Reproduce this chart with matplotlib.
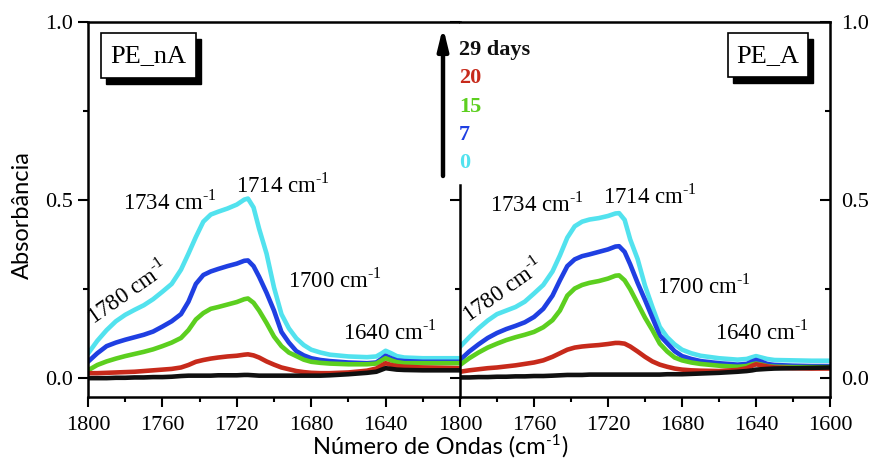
import matplotlib
matplotlib.use("Agg")
import matplotlib.pyplot as plt
from matplotlib.patches import Rectangle, FancyArrowPatch
from matplotlib.ticker import FixedLocator, MultipleLocator

plt.rcParams["font.family"] = ["Liberation Serif", "DejaVu Serif"]
plt.rcParams["mathtext.fontset"] = "custom"
plt.rcParams["mathtext.rm"] = "Liberation Serif"

# ---------------- data ----------------
wavenumber = [1800, 1795, 1790, 1785, 1780, 1775, 1770, 1765, 1760, 1755,
              1750, 1746, 1742, 1738, 1734, 1730, 1725, 1720, 1716, 1714,
              1711, 1708, 1704, 1700, 1696, 1692, 1688, 1684, 1680, 1675,
              1670, 1660, 1650, 1645, 1642, 1640, 1637, 1634, 1630, 1620,
              1610, 1600]

# PE_nA
nA_day0 = [0.069, 0.105, 0.135, 0.160, 0.178, 0.192, 0.205, 0.222, 0.243, 0.265,
           0.305, 0.350, 0.397, 0.440, 0.460, 0.468, 0.477, 0.488, 0.502, 0.505,
           0.480, 0.420, 0.350, 0.255, 0.180, 0.140, 0.112, 0.093, 0.080, 0.072,
           0.066, 0.061, 0.059, 0.061, 0.070, 0.077, 0.070, 0.062, 0.058, 0.056,
           0.056, 0.056]
nA_day7 = [0.046, 0.070, 0.090, 0.100, 0.108, 0.115, 0.122, 0.131, 0.145, 0.160,
           0.180, 0.215, 0.265, 0.290, 0.300, 0.307, 0.315, 0.322, 0.330, 0.331,
           0.315, 0.285, 0.240, 0.190, 0.130, 0.100, 0.076, 0.064, 0.056, 0.051,
           0.048, 0.044, 0.042, 0.044, 0.055, 0.063, 0.056, 0.050, 0.048, 0.046,
           0.046, 0.046]
nA_day15 = [0.022, 0.037, 0.047, 0.055, 0.062, 0.068, 0.074, 0.081, 0.090, 0.100,
            0.113, 0.135, 0.165, 0.183, 0.195, 0.200, 0.207, 0.214, 0.222, 0.224,
            0.212, 0.190, 0.155, 0.117, 0.090, 0.072, 0.062, 0.052, 0.046, 0.043,
            0.041, 0.039, 0.039, 0.041, 0.050, 0.056, 0.050, 0.045, 0.042, 0.042,
            0.042, 0.042]
nA_day20 = [0.014, 0.014, 0.015, 0.016, 0.017, 0.018, 0.020, 0.022, 0.024, 0.026,
            0.030, 0.037, 0.046, 0.051, 0.055, 0.058, 0.061, 0.063, 0.066, 0.067,
            0.064, 0.058, 0.047, 0.038, 0.030, 0.025, 0.020, 0.017, 0.015, 0.014,
            0.014, 0.016, 0.021, 0.027, 0.036, 0.042, 0.037, 0.034, 0.032, 0.030,
            0.029, 0.028]
nA_day29 = [0.000, 0.000, 0.000, 0.001, 0.001, 0.002, 0.002, 0.003, 0.003, 0.004,
            0.006, 0.007, 0.007, 0.007, 0.007, 0.008, 0.008, 0.008, 0.009, 0.009,
            0.008, 0.007, 0.007, 0.007, 0.007, 0.007, 0.007, 0.007, 0.007, 0.007,
            0.008, 0.011, 0.015, 0.018, 0.024, 0.028, 0.026, 0.024, 0.023, 0.022,
            0.022, 0.022]

# PE_A
A_day0 = [0.088, 0.115, 0.140, 0.162, 0.180, 0.190, 0.200, 0.215, 0.238, 0.262,
          0.300, 0.345, 0.395, 0.427, 0.440, 0.446, 0.450, 0.456, 0.463, 0.464,
          0.445, 0.390, 0.335, 0.260, 0.200, 0.144, 0.115, 0.095, 0.080, 0.070,
          0.063, 0.056, 0.052, 0.054, 0.059, 0.062, 0.058, 0.054, 0.051, 0.050,
          0.049, 0.049]
A_day7 = [0.051, 0.075, 0.095, 0.113, 0.127, 0.138, 0.147, 0.157, 0.172, 0.195,
          0.232, 0.275, 0.315, 0.334, 0.343, 0.348, 0.355, 0.362, 0.370, 0.371,
          0.355, 0.320, 0.268, 0.220, 0.170, 0.120, 0.098, 0.076, 0.062, 0.054,
          0.048, 0.042, 0.038, 0.040, 0.047, 0.051, 0.046, 0.040, 0.037, 0.035,
          0.034, 0.034]
A_day15 = [0.037, 0.056, 0.072, 0.086, 0.097, 0.107, 0.115, 0.122, 0.130, 0.143,
           0.163, 0.190, 0.232, 0.252, 0.262, 0.268, 0.273, 0.280, 0.288, 0.289,
           0.275, 0.250, 0.210, 0.170, 0.135, 0.097, 0.075, 0.058, 0.050, 0.044,
           0.040, 0.035, 0.032, 0.034, 0.039, 0.041, 0.038, 0.034, 0.032, 0.031,
           0.031, 0.031]
A_day20 = [0.018, 0.022, 0.025, 0.028, 0.030, 0.033, 0.036, 0.040, 0.044, 0.050,
           0.060, 0.070, 0.080, 0.086, 0.089, 0.091, 0.093, 0.096, 0.099, 0.099,
           0.097, 0.089, 0.075, 0.060, 0.047, 0.038, 0.032, 0.027, 0.024, 0.022,
           0.021, 0.020, 0.023, 0.028, 0.035, 0.039, 0.036, 0.033, 0.030, 0.028,
           0.027, 0.027]
A_day29 = [0.002, 0.002, 0.003, 0.003, 0.004, 0.004, 0.005, 0.005, 0.006, 0.006,
           0.007, 0.008, 0.009, 0.009, 0.009, 0.010, 0.010, 0.010, 0.010, 0.010,
           0.010, 0.010, 0.010, 0.010, 0.010, 0.010, 0.011, 0.011, 0.011, 0.012,
           0.013, 0.015, 0.018, 0.020, 0.022, 0.024, 0.025, 0.026, 0.027, 0.028,
           0.029, 0.030]

colors = ["#52e2ee", "#1f3fe2", "#5ccf1f", "#c72a1b", "#101010"]

x_ticks_left = [1800, 1760, 1720, 1680, 1640]
x_ticks_right = [1800, 1760, 1720, 1680, 1640, 1600]
y_ticks = [0.0, 0.5, 1.0]
y_labels = ["0.0", "0.5", "1.0"]
legend_labels = ["29 days", "20", "15", "7", "0"]
peak_labels = ["1734", "1714", "1700", "1640"]

# ---------------- figure ----------------
W, H = 872, 459
fig = plt.figure(figsize=(W / 100, H / 100), dpi=100)
fig.patch.set_facecolor("white")

SANS = ["Lato", "DejaVu Sans"]

def fx(px):
    return px / W

def fy(py):
    return 1 - py / H

bottom_px, top_px = 397, 22.5
ax1 = fig.add_axes([fx(88), fy(bottom_px), fx(460) - fx(88), (bottom_px - top_px) / H])
ax2 = fig.add_axes([fx(460), fy(bottom_px), fx(830) - fx(460), (bottom_px - top_px) / H])

ylim = (-0.053, 1.0)
lw = 3.3

for ax, series in [(ax1, [nA_day0, nA_day7, nA_day15, nA_day20, nA_day29]),
                   (ax2, [A_day0, A_day7, A_day15, A_day20, A_day29])]:
    for vals, c in zip(series, colors):
        ax.plot(wavenumber, vals, color=c, lw=lw, solid_capstyle="round",
                solid_joinstyle="round")
    ax.set_xlim(1800, 1600)
    ax.set_ylim(*ylim)
    for s in ax.spines.values():
        s.set_linewidth(1.8)
    ax.xaxis.set_minor_locator(MultipleLocator(20))
    ax.tick_params(axis="x", which="major", direction="out", length=7, width=1.5,
                   labelsize=16, pad=7)
    ax.tick_params(axis="x", which="minor", direction="out", length=3.5, width=1.5)

ax1.set_xticks(x_ticks_left)
ax1.set_xticklabels([str(t) for t in x_ticks_left], fontsize=16)
ax2.set_xticks(x_ticks_right)
ax2.set_xticklabels([str(t) for t in x_ticks_right], fontsize=16)

# left panel y axis
ax1.spines["right"].set_visible(False)
ax1.set_yticks(y_ticks)
ax1.set_yticklabels(y_labels, fontsize=16)
ax1.yaxis.set_minor_locator(FixedLocator([0.25, 0.75]))
ax1.tick_params(axis="y", which="major", direction="out", length=7, width=1.5, pad=4)
ax1.tick_params(axis="y", which="minor", direction="out", length=3.5, width=1.5)

# right panel: its left spine is the divider, hidden behind the legend at the top
ax2.set_yticks(y_ticks)
ax2.set_yticklabels([])
ax2.yaxis.set_minor_locator(FixedLocator([0.25]))
ax2.tick_params(axis="y", which="major", direction="out", length=7, width=1.5)
ax2.tick_params(axis="y", which="minor", direction="out", length=3.5, width=1.5)
ax2.spines["left"].set_bounds(ylim[0], 0.542)
ax2.spines["right"].set_visible(False)

ax2r = ax2.twinx()
ax2r.set_ylim(*ylim)
ax2r.set_yticks(y_ticks)
ax2r.set_yticklabels(y_labels, fontsize=16)
ax2r.yaxis.set_minor_locator(FixedLocator([0.25, 0.75]))
ax2r.tick_params(axis="y", which="major", direction="in", length=7, width=1.5, pad=8)
ax2r.tick_params(axis="y", which="minor", direction="in", length=3.5, width=1.5)
for k in ["left", "top", "bottom"]:
    ax2r.spines[k].set_visible(False)
ax2r.spines["right"].set_linewidth(1.8)

# ---------------- labels ----------------
SUP = "$^{\\mathregular{\u20101}}$"

fig.text(fx(22), fy(215), "Absorbância", rotation=90, ha="center", va="center",
         fontsize=17, family=SANS)

# x label built from plain text pieces (superscript as a small raised text)
xl1 = fig.text(fx(313), fy(454), "Número de Ondas (cm", ha="left", va="baseline",
               fontsize=17, family=SANS)
xl2 = ax1.annotate("\u20101", xy=(1, 1), xycoords=xl1, xytext=(0.5, 1.5),
                   textcoords="offset points", ha="left", va="top", fontsize=11,
                   family=SANS, annotation_clip=False)
xl3 = ax1.annotate(")", xy=(1, 0), xycoords=(xl2, xl1), xytext=(0.5, 0),
                   textcoords="offset points", ha="left", va="bottom", fontsize=17,
                   family=SANS, annotation_clip=False)

# panel boxes with shadow
def shadow_box(x0, y0, x1, y1, label, off=5):
    fig.patches.append(Rectangle((fx(x0 + off), fy(y1 + off + 1)), fx(x1 - x0), (y1 - y0) / H,
                                 transform=fig.transFigure, facecolor="black",
                                 edgecolor="black", zorder=5))
    fig.patches.append(Rectangle((fx(x0), fy(y1)), fx(x1 - x0), (y1 - y0) / H,
                                 transform=fig.transFigure, facecolor="white",
                                 edgecolor="black", lw=1.2, zorder=6))
    fig.text(fx((x0 + x1) / 2), fy((y0 + y1) / 2 + 1), label, ha="center", va="center",
             fontsize=19, zorder=7)

shadow_box(101, 33, 196, 78, "PE_nA")
shadow_box(728, 33, 808, 77, "PE_A")

# peak annotations (left-edge px, baseline px)
ann_pos = [(123, 210), (236, 192), (288, 287), (343, 340),
           (490, 212), (603, 203), (657, 293), (715, 340)]
for i, (px, py) in enumerate(ann_pos):
    fig.text(fx(px), fy(py), peak_labels[i % 4] + " cm" + SUP, ha="left", va="baseline",
             fontsize=16.5)

for cx, cy in [(128, 292), (503, 290)]:
    fig.text(fx(cx), fy(cy), "1780 cm" + SUP, ha="center", va="center",
             fontsize=16.5, rotation=35, rotation_mode="anchor")

# legend: arrow + day labels
fig.add_artist(FancyArrowPatch(
    (fx(443), fy(176)), (fx(443), fy(27)), transform=fig.transFigure,
    arrowstyle="-|>,head_width=0.22,head_length=0.9", mutation_scale=14,
    lw=3.2, color="black", zorder=9, shrinkA=0, shrinkB=0))

leg_cols = [colors[4], colors[3], colors[2], colors[1], colors[0]]
for i, (t, c) in enumerate(zip(legend_labels, leg_cols)):
    fig.text(fx(459), fy(55 + i * 28.3), t, ha="left", va="baseline", fontsize=16,
             fontweight="bold", color=c, zorder=10)

fig.savefig("out.png", dpi=100)
